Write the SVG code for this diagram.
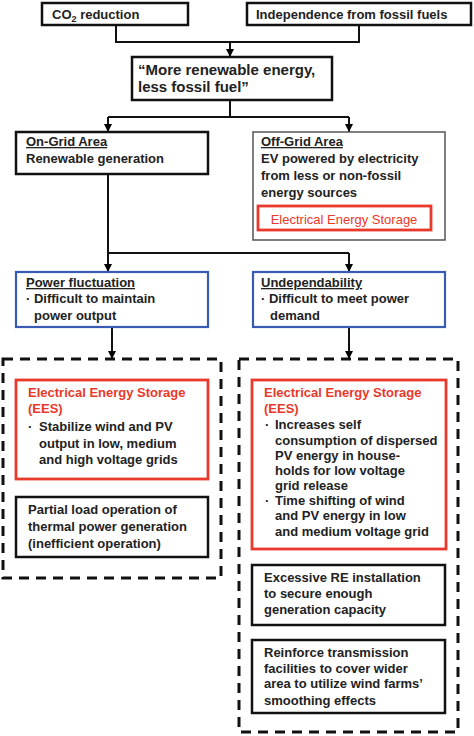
<svg xmlns="http://www.w3.org/2000/svg" width="474" height="736" viewBox="0 0 474 736">
<defs>
<marker id="arr" viewBox="0 0 8 8" refX="8" refY="4" markerWidth="8" markerHeight="8" markerUnits="userSpaceOnUse" orient="auto">
<path d="M0,0 L8,4 L0,8 Z" fill="#000"/>
</marker>
<style>
text{font-family:"Liberation Sans",Arial,sans-serif;font-size:13px;font-weight:bold;fill:#222}
.big{font-size:15px}
.red{fill:#e8392b}
.reg{font-weight:normal}
.u{text-decoration:underline}
.box{fill:#fff;stroke:#111;stroke-width:2.5}
.thin{fill:#fff;stroke:#555;stroke-width:1.5}
.blue{fill:#fff;stroke:#3a5bb5;stroke-width:2.2}
.rbox{fill:#fff;stroke:#e8392b;stroke-width:2.8}
.dash{fill:none;stroke:#111;stroke-width:3;stroke-dasharray:10 7}
.ln{fill:none;stroke:#111;stroke-width:2}
</style>
</defs>
<rect width="474" height="736" fill="#fff"/>
<g id="connectors">
<path class="ln" d="M116,25 V42 H359 V25"/>
<path class="ln" d="M230,42 V57" marker-end="url(#arr)"/>
<path class="ln" d="M230,100 V117"/>
<path class="ln" d="M108,117 H349"/>
<path class="ln" d="M108,117 V132" marker-end="url(#arr)"/>
<path class="ln" d="M349,117 V132" marker-end="url(#arr)"/>
<path class="ln" d="M108,174 V253 H349"/>
<path class="ln" d="M108,253 V272" marker-end="url(#arr)"/>
<path class="ln" d="M349,253 V272" marker-end="url(#arr)"/>
<path class="ln" d="M112,327 V359" marker-end="url(#arr)"/>
<path class="ln" d="M349,327 V359" marker-end="url(#arr)"/>
</g>
<g id="co2">
<rect class="box" x="42" y="3" width="146" height="22"/>
<text x="52" y="19">CO<tspan font-size="9" dy="3">2</tspan><tspan dy="-3"> reduction</tspan></text>
</g>
<g id="independence">
<rect class="box" x="247" y="3" width="224" height="22"/>
<text x="256" y="19">Independence from fossil fuels</text>
</g>
<g id="main">
<rect class="box" x="132" y="57" width="200" height="43" stroke-width="3"/>
<text class="big" x="138" y="75">“More renewable energy,</text>
<text class="big" x="138" y="92">less fossil fuel”</text>
</g>
<g id="ongrid">
<rect class="box" x="16" y="132" width="192" height="42"/>
<text class="u" x="26" y="146">On-Grid Area</text>
<text x="26" y="163">Renewable generation</text>
</g>
<g id="offgrid">
<rect class="thin" x="253" y="132" width="192" height="108"/>
<text class="u" x="261" y="146">Off-Grid Area</text>
<text x="261" y="163">EV powered by electricity</text>
<text x="261" y="180">from less or non-fossil</text>
<text x="261" y="197">energy sources</text>
<rect class="rbox" x="258" y="206" width="173" height="24"/>
<text class="red reg" x="344" y="224" text-anchor="middle">Electrical Energy Storage</text>
</g>
<g id="fluctuation">
<rect class="blue" x="16" y="272" width="192" height="55"/>
<text class="u" x="26" y="287">Power fluctuation</text>
<text x="26" y="303">· Difficult to maintain</text>
<text x="34" y="320">power output</text>
</g>
<g id="undependability">
<rect class="blue" x="253" y="272" width="192" height="55"/>
<text class="u" x="261" y="287">Undependability</text>
<text x="261" y="303">· Difficult to meet power</text>
<text x="270" y="320">demand</text>
</g>
<g id="left-group">
<rect class="dash" x="3" y="359" width="218" height="219"/>
</g>
<g id="ees-left">
<rect class="rbox" x="16" y="380" width="192" height="99"/>
<text class="red" x="28" y="397">Electrical Energy Storage</text>
<text class="red" x="28" y="413">(EES)</text>
<text x="28" y="431">·</text>
<text x="39" y="431">Stabilize wind and PV</text>
<text x="39" y="448">output in low, medium</text>
<text x="39" y="464">and high voltage grids</text>
</g>
<g id="partial-load">
<rect class="box" x="16" y="497" width="192" height="60" stroke-width="2"/>
<text x="28" y="514">Partial load operation of</text>
<text x="28" y="531">thermal power generation</text>
<text x="28" y="548">(inefficient operation)</text>
</g>
<g id="right-group">
<rect class="dash" x="239" y="359" width="219" height="373"/>
</g>
<g id="ees-right">
<rect class="rbox" x="252" y="380" width="194" height="169"/>
<text class="red" x="264" y="397">Electrical Energy Storage</text>
<text class="red" x="264" y="413">(EES)</text>
<text x="265" y="429">·</text>
<text x="275" y="429">Increases self</text>
<text x="275" y="445">consumption of dispersed</text>
<text x="275" y="460">PV energy in house-</text>
<text x="275" y="475">holds for low voltage</text>
<text x="275" y="490">grid release</text>
<text x="265" y="505">·</text>
<text x="275" y="505">Time shifting of wind</text>
<text x="275" y="520">and PV energy in low</text>
<text x="275" y="536">and medium voltage grid</text>
</g>
<g id="excessive">
<rect class="box" x="252" y="565" width="193" height="60" stroke-width="2"/>
<text x="264" y="582">Excessive RE installation</text>
<text x="264" y="598">to secure enough</text>
<text x="264" y="614">generation capacity</text>
</g>
<g id="reinforce">
<rect class="box" x="252" y="640" width="193" height="73" stroke-width="2"/>
<text x="264" y="657">Reinforce transmission</text>
<text x="264" y="673">facilities to cover wider</text>
<text x="264" y="688">area to utilize wind farms’</text>
<text x="264" y="705">smoothing effects</text>
</g>
</svg>
